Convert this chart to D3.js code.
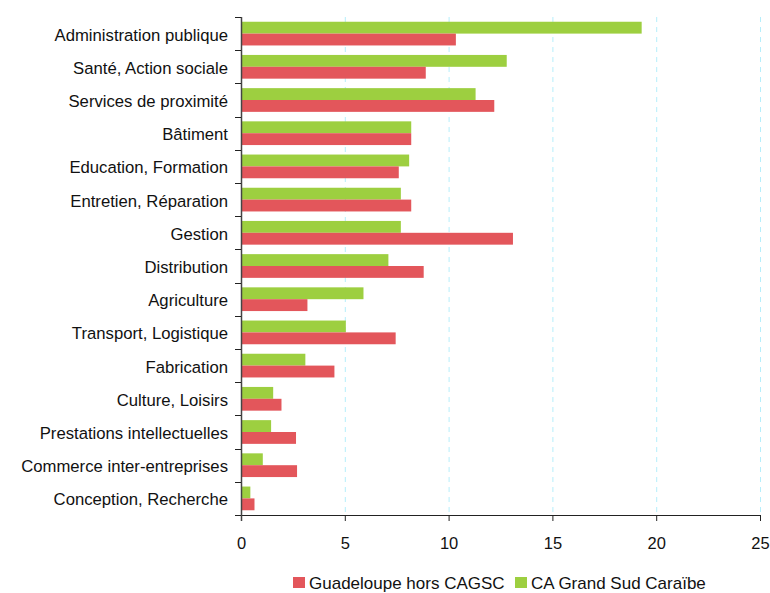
<!DOCTYPE html>
<html>
<head>
<meta charset="utf-8">
<script src="https://cdn.jsdelivr.net/npm/d3@7"></script>
<style>
  html, body { margin: 0; padding: 0; background: #fff; }
  svg { display: block; font-family: "Liberation Sans", Arial, sans-serif; }
</style>
</head>
<body>
<svg id="chart" width="770" height="593"></svg>
<script>
// Domaines professionnels, part des emplois (%)
const categories = [
  "Administration publique",
  "Santé, Action sociale",
  "Services de proximité",
  "Bâtiment",
  "Education, Formation",
  "Entretien, Réparation",
  "Gestion",
  "Distribution",
  "Agriculture",
  "Transport, Logistique",
  "Fabrication",
  "Culture, Loisirs",
  "Prestations intellectuelles",
  "Commerce inter-entreprises",
  "Conception, Recherche"
];
const caGrandSud = [19.3, 12.8, 11.3, 8.2, 8.1, 7.7, 7.7, 7.1, 5.9, 5.05, 3.1, 1.55, 1.45, 1.05, 0.45];
const guadeloupeHors = [10.35, 8.9, 12.2, 8.2, 7.6, 8.2, 13.1, 8.8, 3.2, 7.45, 4.5, 1.95, 2.65, 2.7, 0.65];
const xTicks = [0, 5, 10, 15, 20, 25];
const seriesNames = ["Guadeloupe hors CAGSC", "CA Grand Sud Caraïbe"];
const colors = { red: "#e3565b", green: "#9dcf40" };

const svg = d3.select("#chart");
const mLeft = 241, mRight = 760, mTop = 17, mBottom = 515;

const x = d3.scaleLinear().domain([0, 25]).range([mLeft, mRight]);
const y = d3.scaleBand().domain(categories).range([mTop, mBottom]).paddingInner(0).paddingOuter(0);
const inner = d3.scaleBand().domain(["green", "red"]).range([0, y.bandwidth()]).paddingOuter(0.4).paddingInner(0);

// vertical dashed grid
svg.append("g")
  .selectAll("line")
  .data(xTicks.filter(d => d > 0))
  .join("line")
  .attr("x1", d => x(d) + 0.5).attr("x2", d => x(d) + 0.5)
  .attr("y1", mTop).attr("y2", mBottom)
  .attr("stroke", "#b5eefb")
  .attr("stroke-width", 1)
  .attr("stroke-dasharray", "5,5");

// bars
const rows = categories.map((c, i) => ({ c, g: caGrandSud[i], r: guadeloupeHors[i] }));
const rowG = svg.append("g").selectAll("g").data(rows).join("g")
  .attr("transform", d => `translate(0,${y(d.c)})`);
rowG.append("rect")
  .attr("x", x(0)).attr("y", inner("green"))
  .attr("width", d => x(d.g) - x(0)).attr("height", inner.bandwidth())
  .attr("fill", colors.green);
rowG.append("rect")
  .attr("x", x(0)).attr("y", inner("red"))
  .attr("width", d => x(d.r) - x(0)).attr("height", inner.bandwidth())
  .attr("fill", colors.red);

// x axis
const xAxis = svg.append("g")
  .attr("transform", `translate(0,${mBottom})`)
  .call(d3.axisBottom(x).tickValues(xTicks).tickSize(6).tickPadding(16).tickFormat(d3.format("d")));
xAxis.select(".domain").attr("stroke", "#222").attr("d", `M${mLeft},0.5H${mRight}`);
xAxis.selectAll(".tick line").attr("stroke", "#222");
xAxis.selectAll("text").attr("font-size", 16.5).attr("fill", "#111")
  .attr("font-family", "'Liberation Sans', Arial, sans-serif");

// y axis with ticks at band boundaries
const yg = svg.append("g").attr("transform", `translate(${mLeft},0)`);
yg.append("line").attr("x1", 0.5).attr("x2", 0.5).attr("y1", mTop).attr("y2", mBottom + 6)
  .attr("stroke", "#444").attr("stroke-width", 1.5);
const bounds = categories.map(c => y(c)).concat([mBottom]);
yg.selectAll("line.tk").data(bounds).join("line").attr("class", "tk")
  .attr("x1", -6).attr("x2", 0).attr("y1", d => Math.round(d) + 0.5).attr("y2", d => Math.round(d) + 0.5)
  .attr("stroke", "#222");
yg.selectAll("text").data(categories).join("text")
  .attr("x", -13)
  .attr("y", d => y(d) + y.bandwidth() / 2)
  .attr("dy", "0.42em")
  .attr("text-anchor", "end")
  .attr("font-size", 16.7)
  .attr("fill", "#111")
  .text(d => d);

// legend
const legend = svg.append("g").attr("transform", "translate(293,583)");
const items = [
  { name: seriesNames[0], color: colors.red, x: 0 },
  { name: seriesNames[1], color: colors.green, x: 222 }
];
const li = legend.selectAll("g").data(items).join("g").attr("transform", d => `translate(${d.x},0)`);
li.append("rect").attr("x", 0).attr("y", -6).attr("width", 12).attr("height", 11).attr("fill", d => d.color);
li.append("text").attr("x", 16).attr("y", 0).attr("dy", "0.36em")
  .attr("font-size", 17).attr("fill", "#111").text(d => d.name);
</script>
</body>
</html>
